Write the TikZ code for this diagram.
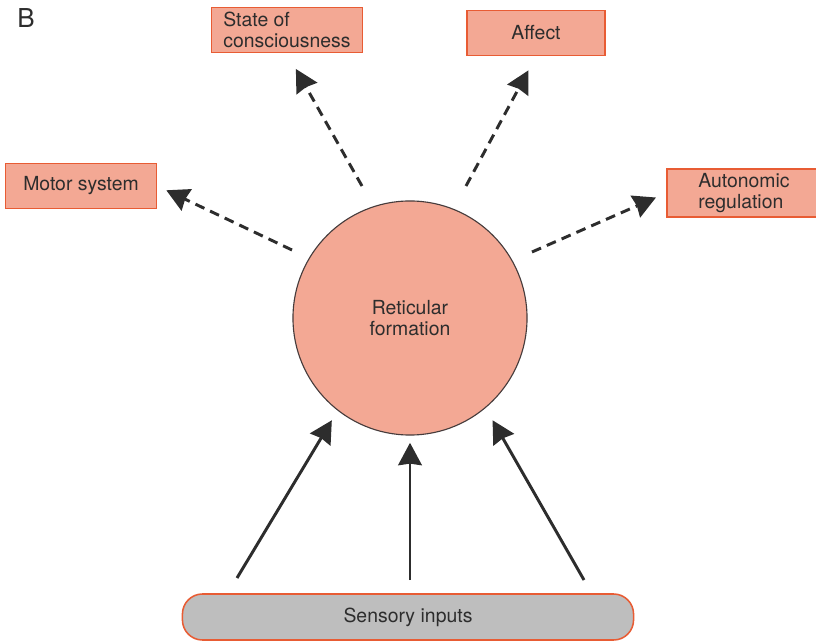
\documentclass[tikz,border=0pt]{standalone}
\usepackage{fontspec}
\setmainfont{TeX Gyre Heros}
\usepackage{xcolor}
\usepackage{tikz}
\usetikzlibrary{arrows.meta,positioning,calc}

\definecolor{boxfill}{RGB}{243,168,148}
\definecolor{boxedge}{RGB}{232,92,52}
\definecolor{rimdark}{RGB}{70,60,60}
\definecolor{grayfill}{RGB}{190,190,190}
\definecolor{ink}{RGB}{45,45,45}
\newcommand{\lbl}{\fontsize{13.8}{14.6}\selectfont}

\begin{document}
\begin{tikzpicture}[x=0.025cm, y=-0.025cm]
  \tikzstyle{outbox}=[draw=boxedge, fill=boxfill, line width=1.1pt, minimum width=3.775cm, minimum height=1.125cm, align=left, font=\lbl, text=ink]
  \tikzstyle{drive}=[draw=ink, line width=2.1pt, dash pattern=on 7pt off 4.5pt, -{Stealth[inset=0.4mm, length=5.6mm, width=5.9mm]}]
  \tikzstyle{feed}=[draw=ink, line width=2.1pt, -{Stealth[inset=0.4mm, length=5.6mm, width=5.9mm]}]
  \useasboundingbox (0,0) rectangle (816,642);

  \node[font=\fontsize{18.5}{20}\selectfont, text=ink] (panel) at (26,18) {B};

  % centre
  \node[circle, draw=rimdark, line width=0.8pt, fill=boxfill, minimum size=5.85cm, align=center, font=\lbl, text=ink] (rf) at (410,318) {Reticular\\formation};

  % outputs
  \node[outbox] (sc) at (287,30) {State of\\consciousness};
  \node[outbox, minimum width=3.45cm] (af) at (536,33) {Affect};
  \node[outbox] (ms) at (81,186) {Motor system};
  \node[outbox, minimum width=3.85cm] (au) at (744,193) {Autonomic\\regulation};

  % input bar
  \node[draw=boxedge, fill=grayfill, line width=1.1pt, rounded corners=0.5cm, minimum width=11.275cm, minimum height=1.15cm, font=\lbl, text=ink] (si) at (408,617) {Sensory inputs};

  \coordinate (s1) at (362,186);
  \coordinate (s2) at (466,186);
  \coordinate (s3) at (292,250);
  \coordinate (s4) at (532,252);
  \draw[drive, shorten >=0.45cm] (s1) -- (sc.south);
  \draw[drive, shorten >=0.4cm] (s2) -- (af.south);
  \draw[drive, shorten >=0.25cm] (s3) -- (ms.east);
  \draw[drive, shorten >=0.28cm] (s4) -- (au.west);

  \coordinate (i1) at (237,578);
  \coordinate (i2) at (410,580);
  \coordinate (i3) at (584,580);
  \draw[feed, shorten >=0.28cm] (i1) -- (rf.232);
  \draw[feed, shorten >=0.18cm] (i2) -- (rf.south);
  \draw[feed, shorten >=0.35cm] (i3) -- (rf.310);
\end{tikzpicture}
\end{document}
